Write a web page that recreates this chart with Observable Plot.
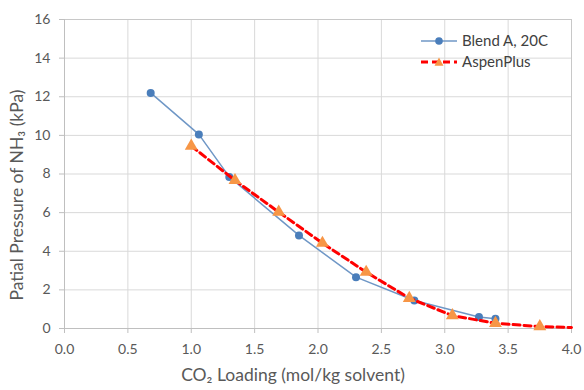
<!DOCTYPE html>
<html><head><meta charset="utf-8">
<script src="https://cdn.jsdelivr.net/npm/d3@7"></script>
<script src="https://cdn.jsdelivr.net/npm/@observablehq/plot@0.6"></script>
<style>
body{margin:0;background:#fff;font-family:Lato,"Open Sans",sans-serif;}
#wrap{position:relative;width:584px;height:390px;}
#legend{position:absolute;left:420px;top:30px;font-size:15px;color:#404040;line-height:21px;}
#legend div{display:flex;align-items:center;height:21px;}
#legend svg{margin-right:4px;}
</style>
</head><body>
<div id="wrap"><div id="chart"></div>
<div id="legend">
<div><svg width="38" height="12"><line x1="1" y1="6" x2="37" y2="6" stroke="#6f97c6" stroke-width="1.5"/><circle cx="19" cy="6" r="3.8" fill="#4a7ebb"/></svg>Blend A, 20C</div>
<div><svg width="38" height="12"><line x1="1" y1="6" x2="37" y2="6" stroke="#ff0000" stroke-width="3" stroke-dasharray="7,4"/><path d="M19,1.5L23.5,9.8L14.5,9.8Z" fill="#f79646"/></svg>AspenPlus</div>
</div></div>
<script>
const blendX = [0.68, 1.06, 1.30, 1.85, 2.30, 2.76, 3.27, 3.40];
const blendY = [12.2, 10.05, 7.85, 4.82, 2.66, 1.45, 0.60, 0.50];
const aspenX = [1.00, 1.345, 1.69, 2.035, 2.38, 2.72, 3.06, 3.40, 3.75, 4.00];
const aspenY = [9.45, 7.67, 6.03, 4.42, 2.92, 1.57, 0.67, 0.27, 0.10, 0.05];
const aspenMarked = [true, true, true, true, true, true, true, true, true, false];
const xTicks = [0, 0.5, 1, 1.5, 2, 2.5, 3, 3.5, 4];
const yTicks = [0, 2, 4, 6, 8, 10, 12, 14, 16];

const blend = blendX.map((x, i) => ({x, y: blendY[i]}));
const aspen = aspenX.map((x, i) => ({x, y: aspenY[i], m: aspenMarked[i]}));

const chart = Plot.plot({
  width: 584, height: 390,
  marginLeft: 64, marginRight: 13, marginTop: 19, marginBottom: 62,
  style: {fontFamily: "Lato, 'Open Sans', sans-serif", fontSize: "14px", color: "#595959", background: "#fff"},
  x: {domain: [0, 4], ticks: xTicks, tickFormat: d3.format(".1f"), tickSize: 5, label: null},
  y: {domain: [0, 16], ticks: yTicks, tickSize: 5, label: null},
  marks: [
    Plot.gridX(xTicks, {stroke: "#d9d9d9", strokeOpacity: 1}),
    Plot.gridY(yTicks, {stroke: "#d9d9d9", strokeOpacity: 1}),
    Plot.frame({stroke: "#c8c8c8"}),
    Plot.axisX({ticks: xTicks, tickFormat: d3.format(".1f"), tickSize: 5, tickPadding: 11, stroke: "#bfbfbf", fill: "#595959", label: null}),
    Plot.axisY({ticks: yTicks, tickSize: 5, tickPadding: 9, stroke: "#bfbfbf", fill: "#595959", label: null}),
    Plot.ruleY([0], {stroke: "#bfbfbf"}),
    Plot.ruleX([0], {stroke: "#bfbfbf"}),
    Plot.line(blend, {x: "x", y: "y", stroke: "#6f97c6", strokeWidth: 1.5}),
    Plot.dot(blend, {x: "x", y: "y", r: 4, fill: "#4a7ebb"}),
    Plot.line(aspen, {x: "x", y: "y", stroke: "#ff0000", strokeWidth: 3, strokeDasharray: "7,4"}),
    Plot.dot(aspen.filter(d => d.m), {x: "x", y: "y", symbol: "triangle", r: 4.8, fill: "#f79646"}),
    Plot.text(["CO₂ Loading (mol/kg solvent)"], {frameAnchor: "bottom", textAnchor: "middle", dx: -25, dy: 52, fontSize: 17.5, fill: "#595959"}),
    Plot.text(["Patial Pressure of NH₃ (kPa)"], {frameAnchor: "left", textAnchor: "middle", dx: -47, dy: 21, rotate: -90, fontSize: 17.5, fill: "#595959"})
  ]
});
document.getElementById("chart").appendChild(chart);
</script>
</body></html>
